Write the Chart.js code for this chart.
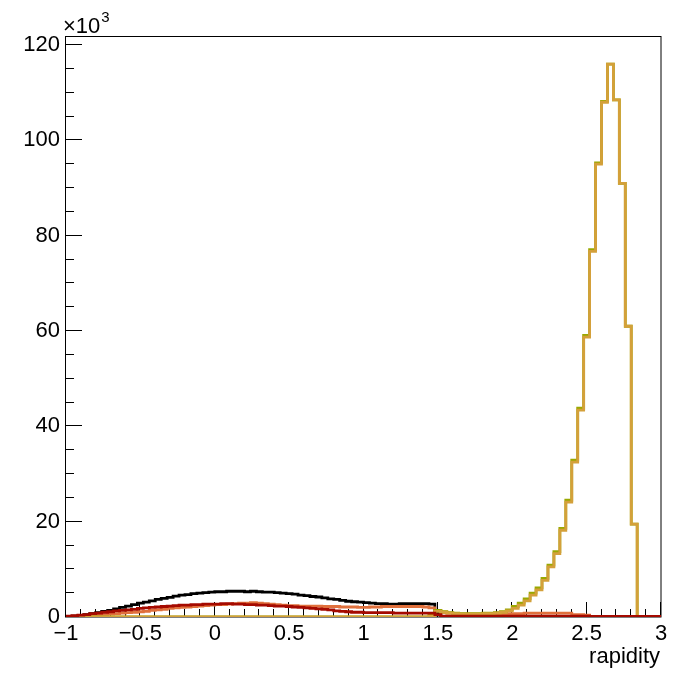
<!DOCTYPE html>
<html>
<head>
<meta charset="utf-8">
<script src="https://cdn.jsdelivr.net/npm/chart.js@4.4.1/dist/chart.umd.min.js"></script>
<style>
  html, body { margin: 0; padding: 0; background: #fff; }
  #chart { display: block; }
</style>
</head>
<body>
<canvas id="chart" width="675" height="673"></canvas>
<script>
// 100 bins from -1 to 3, values in units of 10^3 entries
const BIN_MIN = -1;
const BIN_WIDTH = 0.04;

const X_MAJOR = [-1, -0.5, 0, 0.5, 1, 1.5, 2, 2.5, 3];
const Y_MAJOR = [0, 20, 40, 60, 80, 100, 120];
const Y_MAX = 121.9;

const blackVals = [
  0.1, 0.2, 0.3, 0.5, 0.7, 0.9, 1.2, 1.4, 1.7, 2.0,
  2.3, 2.6, 2.9, 3.1, 3.4, 3.7, 3.9, 4.1, 4.4, 4.6,
  4.7, 4.9, 5.0, 5.1, 5.2, 5.3, 5.3, 5.4, 5.4, 5.4,
  5.3, 5.4, 5.3, 5.2, 5.2, 5.1, 5.0, 4.9, 4.8, 4.6,
  4.5, 4.3, 4.2, 4.0, 3.8, 3.7, 3.5, 3.3, 3.2, 3.1,
  3.0, 2.9, 2.8, 2.8, 2.7, 2.7, 2.8, 2.8, 2.8, 2.8,
  2.8, 2.7, 0.8, 0.1, 0.1, 0.1, 0.1, 0.1, 0.1, 0.1,
  0.1, 0.1, 0.1, 0.1, 0.1, 0.1, 0.1, 0.1, 0.1, 0.1,
  0.1, 0.1, 0.1, 0.1, 0.1, 0.1, 0.1, 0.1, 0, 0,
  0, 0, 0, 0, 0, 0, 0, 0, 0, 0
];

const orangeVals = [
  0.0, 0.1, 0.1, 0.2, 0.3, 0.4, 0.5, 0.6, 0.7, 0.8,
  0.9, 1.0, 1.1, 1.2, 1.4, 1.5, 1.6, 1.8, 1.9, 2.0,
  2.1, 2.2, 2.3, 2.4, 2.5, 2.6, 2.6, 2.7, 2.8, 2.9,
  2.9, 3.0, 2.9, 2.8, 2.7, 2.6, 2.5, 2.4, 2.4, 2.3,
  2.3, 2.3, 2.3, 2.2, 2.2, 2.2, 2.1, 2.1, 2.1, 2.0,
  2.0, 2.1, 2.1, 2.2, 2.2, 2.2, 2.2, 2.2, 2.2, 2.2,
  2.1, 1.9, 1.4, 1.0, 0.8, 0.7, 0.6, 0.6, 0.6, 0.6,
  0.6, 0.6, 0.6, 0.6, 0.7, 0.7, 0.7, 0.8, 0.8, 0.8,
  0.8, 0.8, 0.8, 0.8, 0.8, 0.5, 0.5, 0.4, 0, 0,
  0, 0, 0, 0, 0, 0, 0, 0, 0, 0
];

const redVals = [
  0.2, 0.3, 0.4, 0.5, 0.7, 0.8, 1.0, 1.1, 1.3, 1.4,
  1.5, 1.6, 1.8, 1.9, 2.0, 2.1, 2.2, 2.3, 2.4, 2.5,
  2.5, 2.6, 2.6, 2.7, 2.7, 2.7, 2.8, 2.8, 2.7, 2.7,
  2.6, 2.6, 2.5, 2.5, 2.4, 2.3, 2.3, 2.2, 2.1, 2.0,
  1.9, 1.8, 1.7, 1.6, 1.5, 1.3, 1.2, 1.1, 1.0, 1.0,
  0.9, 0.9, 0.9, 0.9, 0.9, 0.8, 0.8, 0.8, 0.8, 0.8,
  0.8, 0.8, 0.5, 0.2, 0.2, 0.2, 0.2, 0.2, 0.2, 0.2,
  0.2, 0.2, 0.2, 0.2, 0.2, 0.2, 0.2, 0.2, 0.2, 0.2,
  0.2, 0.2, 0.2, 0.2, 0.2, 0.2, 0.2, 0.2, 0.1, 0.1,
  0.1, 0.1, 0.1, 0.1, 0.1, 0.1, 0.1, 0.1, 0.1, 0.1
];

const greenVals = [
  0, 0, 0, 0, 0, 0, 0, 0, 0, 0,
  0, 0, 0, 0, 0, 0, 0, 0, 0, 0,
  0, 0, 0, 0, 0, 0, 0, 0, 0, 0,
  0, 0, 0, 0, 0, 0, 0, 0, 0, 0,
  0, 0, 0, 0, 0, 0, 0, 0, 0, 0,
  0, 0, 0, 0, 0, 0, 0, 0, 0, 0,
  0, 0.4, 1.4, 1.1, 0.9, 0.8, 0.7, 0.7, 0.7, 0.7,
  0.8, 0.8, 0.9, 1.1, 1.5, 2.2, 2.9, 3.8, 5.0, 6.1,
  8.1, 10.9, 13.7, 18.6, 24.5, 32.9, 43.8, 59.1, 77.1, 95.3,
  108.2, 116, 108.5, 91, 61, 19.5, 0, 0, 0, 0
];

const goldVals = [
  0, 0, 0, 0, 0, 0, 0, 0, 0, 0,
  0, 0, 0, 0, 0, 0, 0, 0, 0, 0,
  0, 0, 0, 0, 0, 0, 0, 0, 0, 0,
  0, 0, 0, 0, 0, 0, 0, 0, 0, 0,
  0, 0, 0, 0, 0, 0, 0, 0, 0, 0,
  0, 0, 0, 0, 0, 0, 0, 0, 0, 0,
  0, 0.2, 1.2, 1.0, 0.8, 0.7, 0.6, 0.6, 0.6, 0.6,
  0.7, 0.7, 0.8, 1.0, 1.3, 1.8, 2.5, 3.4, 4.6, 5.7,
  7.7, 10.5, 13.3, 18.2, 24.1, 32.5, 43.4, 58.7, 76.7, 95,
  108, 116, 108.5, 91, 61, 19.5, 0, 0, 0, 0
];

function toSteps(values) {
  const pts = values.map((v, i) => ({ x: BIN_MIN + i * BIN_WIDTH, y: v }));
  pts.push({ x: BIN_MIN + values.length * BIN_WIDTH, y: values[values.length - 1] });
  return pts;
}

function histSet(values, color, order) {
  return {
    data: toSteps(values),
    borderColor: color,
    borderWidth: 2.8,
    stepped: true,
    pointRadius: 0,
    fill: false,
    order: order,
  };
}

function fmt(v) {
  const s = String(Math.round(v * 10) / 10);
  return s.replace("-", "\u2212");
}

const FONT = "'Liberation Sans', Arial, Helvetica, sans-serif";

// ROOT style frame, inward ticks and titles
const rootAxes = {
  id: "rootAxes",
  beforeDatasetsDraw(chart) {
    const { ctx, chartArea: a, scales } = chart;
    const xs = scales.x;
    const ys = scales.y;
    ctx.save();
    ctx.strokeStyle = "#000";
    ctx.lineWidth = 1;
    ctx.strokeRect(a.left - 0.5, a.top + 0.5, a.right - a.left + 0.5, a.bottom - a.top - 0.5);
    ctx.beginPath();
    for (let k = 0; k <= 40; k++) {
      const v = -1 + k * 0.1;
      const px = Math.round(xs.getPixelForValue(v)) - 0.5;
      const len = k % 5 === 0 ? 15 : 8;
      ctx.moveTo(px, a.bottom);
      ctx.lineTo(px, a.bottom - len);
    }
    for (let k = 0; k <= 24; k++) {
      const v = k * 5;
      const py = Math.round(ys.getPixelForValue(v)) - 0.5;
      const len = k % 4 === 0 ? 16 : 8;
      ctx.moveTo(a.left, py);
      ctx.lineTo(a.left + len, py);
    }
    ctx.stroke();
    ctx.restore();
  },
  afterDraw(chart) {
    const { ctx, chartArea: a } = chart;
    ctx.save();
    ctx.fillStyle = "#000";
    ctx.textBaseline = "alphabetic";
    ctx.textAlign = "left";
    ctx.font = "22px " + FONT;
    ctx.fillText("\u00d710", a.left - 3, 33);
    const w = ctx.measureText("\u00d710").width;
    ctx.font = "15px " + FONT;
    ctx.fillText("3", a.left - 3 + w + 1, 22);
    ctx.font = "22px " + FONT;
    ctx.textAlign = "right";
    ctx.fillText("rapidity", a.right - 1, 663);
    ctx.restore();
  },
};

new Chart(document.getElementById("chart"), {
  type: "line",
  data: {
    datasets: [
      histSet(redVals, "#a50a00", 0),
      histSet(goldVals, "#d4a03a", 1),
      histSet(greenVals, "#9aa800", 2),
      histSet(orangeVals, "#e0703c", 3),
      histSet(blackVals, "#000000", 4),
    ],
  },
  options: {
    responsive: false,
    animation: false,
    layout: { padding: { top: 36, right: 14, left: 0, bottom: 0 } },
    plugins: { legend: { display: false }, tooltip: { enabled: false } },
    scales: {
      x: {
        type: "linear",
        min: -1,
        max: 3,
        grid: { display: false, drawTicks: false },
        border: { display: false },
        afterFit: (s) => { s.height = 56; },
        afterBuildTicks: (s) => { s.ticks = X_MAJOR.map((v) => ({ value: v })); },
        ticks: {
          padding: 4,
          maxRotation: 0,
          autoSkip: false,
          color: "#000",
          font: { family: FONT, size: 22 },
          callback: (v) => fmt(v),
        },
      },
      y: {
        min: 0,
        max: Y_MAX,
        grid: { display: false, drawTicks: false },
        border: { display: false },
        afterFit: (s) => { s.width = 66; },
        afterBuildTicks: (s) => { s.ticks = Y_MAJOR.map((v) => ({ value: v })); },
        ticks: {
          padding: 6,
          color: "#000",
          font: { family: FONT, size: 22 },
          callback: (v) => fmt(v),
        },
      },
    },
  },
  plugins: [rootAxes],
});
</script>
</body>
</html>
